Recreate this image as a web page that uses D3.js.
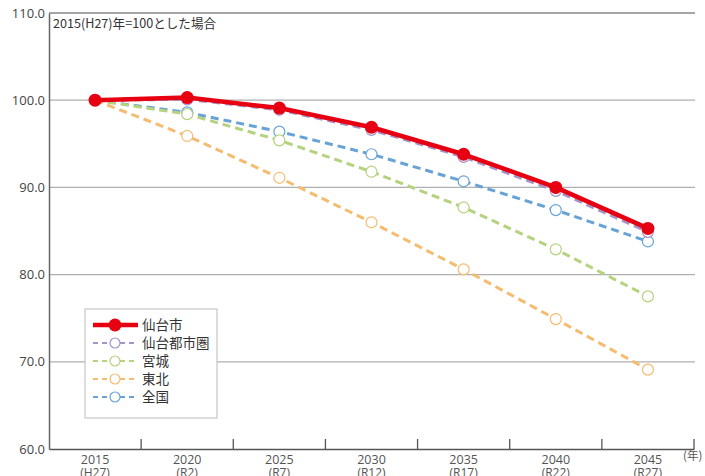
<!DOCTYPE html>
<html><head><meta charset="utf-8">
<script src="https://cdn.jsdelivr.net/npm/d3@7"></script>
<style>
html,body{margin:0;padding:0;background:#fff;}
svg{display:block;font-family:"Noto Sans CJK JP","Noto Sans",sans-serif;}
</style></head><body>
<svg id="c" width="705" height="476"></svg>
<script>
const years = ["2015","2020","2025","2030","2035","2040","2045"];
const eras = ["(H27)","(R2)","(R7)","(R12)","(R17)","(R22)","(R27)"];
const yTicks = [60,70,80,90,100,110];
const seriesNames = ["仙台市","仙台都市圏","宮城","東北","全国"];
const sendaiCity = [100.0,100.3,99.1,96.9,93.8,90.0,85.3];
const sendaiMetro = [100.0,100.1,98.9,96.6,93.5,89.6,84.9];
const miyagi = [100.0,98.4,95.4,91.8,87.7,82.9,77.5];
const tohoku = [100.0,95.9,91.1,86.0,80.6,74.9,69.1];
const japan = [100.0,98.6,96.4,93.8,90.7,87.4,83.8];
const colors = ["#e60012","#a594c8","#b5d27e","#f5bb6e","#67a3d6"];

const seriesVals = [sendaiCity,sendaiMetro,miyagi,tohoku,japan];
const svg = d3.select("#c");
const L=49,R=694,T=13,B=449;
const x = d3.scaleBand().domain(years).range([L,R]);
const y = d3.scaleLinear().domain([60,110]).range([B,T]);

// gridlines
svg.append("g").selectAll("line").data(yTicks.filter(t=>t>60&&t<110)).join("line")
  .attr("x1",L).attr("x2",R+1).attr("y1",d=>y(d)).attr("y2",d=>y(d))
  .attr("stroke","#b0b0b0").attr("stroke-width",1.3);
// top line
svg.append("line").attr("x1",L).attr("x2",R+1).attr("y1",y(110)).attr("y2",y(110))
  .attr("stroke","#888").attr("stroke-width",1.5);

// y axis
const ya = svg.append("g").attr("transform",`translate(${L},0)`)
  .call(d3.axisLeft(y).tickValues(yTicks).tickSize(0).tickPadding(4).tickFormat(d3.format(".1f")));
ya.select(".domain").attr("stroke","#666").attr("stroke-width",1.5);
ya.selectAll("text").attr("font-size",13).attr("fill","#444").attr("font-family","'Open Sans',sans-serif").attr("dy","0.32em");

// x axis
const xa = svg.append("g").attr("transform",`translate(0,${B})`)
  .call(d3.axisBottom(x).tickSize(0).tickFormat(""));
xa.select(".domain").attr("stroke","#555").attr("stroke-width",1.5);
const bounds = years.map((d,i)=>x(d)+x.bandwidth());
svg.append("g").selectAll("line").data(bounds).join("line")
  .attr("x1",d=>d).attr("x2",d=>d).attr("y1",B).attr("y2",B-10)
  .attr("stroke","#555").attr("stroke-width",1.3);
const xl = svg.append("g");
years.forEach((yr,i)=>{
  const cx = x(yr)+x.bandwidth()/2;
  xl.append("text").attr("x",cx).attr("y",B+15).attr("text-anchor","middle")
    .attr("font-size",12.5).attr("fill","#555").attr("font-family","'Open Sans',sans-serif").text(yr);
  xl.append("text").attr("x",cx).attr("y",B+28).attr("text-anchor","middle")
    .attr("font-size",12).attr("fill","#555").attr("font-family","'Open Sans',sans-serif").text(eras[i]);
});
svg.append("text").attr("x",683).attr("y",B+11).attr("text-anchor","start")
  .attr("font-size",11.5).attr("fill","#555").text("(年)");

// note
svg.append("text").attr("x",53).attr("y",28).attr("font-size",12.6).attr("fill","#333").text("2015(H27)年=100とした場合");

// series lines (draw in reverse so 仙台市 on top)
const line = d3.line().x((d,i)=>x(years[i])+x.bandwidth()/2).y(d=>y(d));
const order = [4,3,2,1,0];
order.forEach(k=>{
  const g = svg.append("g");
  const vals = seriesVals[k];
  if(k===0){
    g.append("path").attr("d",line(vals)).attr("fill","none").attr("stroke",colors[k]).attr("stroke-width",4.5).attr("stroke-linejoin","round");
    g.selectAll("circle").data(vals).join("circle")
      .attr("cx",(d,i)=>x(years[i])+x.bandwidth()/2).attr("cy",d=>y(d)).attr("r",6.5).attr("fill",colors[k]);
  } else {
    g.append("path").attr("d",line(vals)).attr("fill","none").attr("stroke",colors[k]).attr("stroke-width",3).attr("stroke-dasharray","8,5");
    g.selectAll("circle").data(vals.slice(1)).join("circle")
      .attr("cx",(d,i)=>x(years[i+1])+x.bandwidth()/2).attr("cy",d=>y(d)).attr("r",5.5).attr("fill","#fff").attr("stroke",colors[k]).attr("stroke-width",1.2);
  }
});

// legend
const lg = svg.append("g");
lg.append("rect").attr("x",85).attr("y",309).attr("width",132).attr("height",109).attr("fill","#fff").attr("stroke","#bbb").attr("stroke-width",1);
seriesNames.forEach((n,k)=>{
  const yy = 325 + k*18;
  if(k===0){
    lg.append("line").attr("x1",93).attr("x2",138).attr("y1",yy).attr("y2",yy).attr("stroke",colors[k]).attr("stroke-width",4.5);
    lg.append("circle").attr("cx",115).attr("cy",yy).attr("r",6.5).attr("fill",colors[k]);
  } else {
    lg.append("line").attr("x1",93).attr("x2",138).attr("y1",yy).attr("y2",yy).attr("stroke",colors[k]).attr("stroke-width",2.2).attr("stroke-dasharray","5,4");
    lg.append("circle").attr("cx",115).attr("cy",yy).attr("r",5).attr("fill","#fff").attr("stroke",colors[k]).attr("stroke-width",1.2);
  }
  lg.append("text").attr("x",142).attr("y",yy+4.5).attr("font-size",13.5).attr("fill","#333").text(n);
});
</script>
</body></html>
